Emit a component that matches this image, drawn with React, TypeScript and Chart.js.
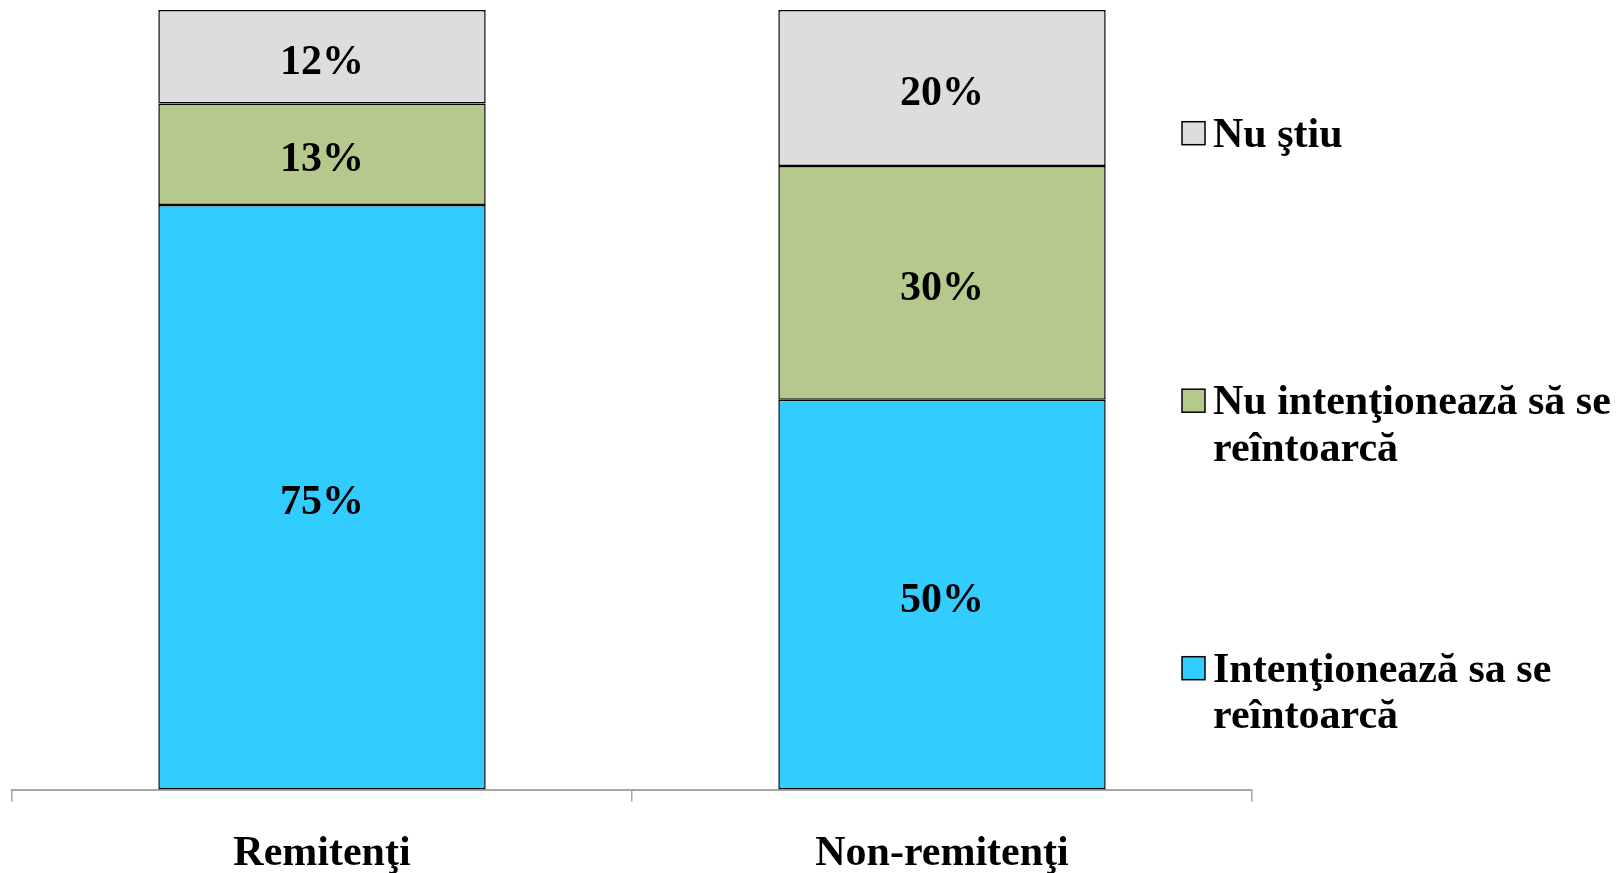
import React, { useEffect, useRef } from "react";
import { Chart, registerables } from "chart.js";

Chart.register(...registerables);

const categories = ["Remitenţi", "Non-remitenţi"];
const seriesLabels = [
  "Intenţionează sa se reîntoarcă",
  "Nu intenţionează să se reîntoarcă",
  "Nu ştiu",
];
const intends = [75, 50];
const notIntends = [13, 30];
const dontKnow = [12, 20];
const colors = ["#33CCFF", "#B5C98C", "#DCDDDF"];

const FONT_FAMILY = '"Liberation Serif", "Times New Roman", serif';

const dataLabelPlugin = {
  id: "dataLabels",
  afterDatasetsDraw(chart: any) {
    const ctx = chart.ctx;
    ctx.save();
    ctx.font = `bold 42px ${FONT_FAMILY}`;
    ctx.fillStyle = "#000";
    ctx.textAlign = "center";
    ctx.textBaseline = "middle";
    chart.data.datasets.forEach((ds: any, i: number) => {
      const meta = chart.getDatasetMeta(i);
      meta.data.forEach((el: any, j: number) => {
        const v = ds.data[j];
        const y = (el.y + el.base) / 2;
        ctx.fillText(v + "%", el.x, y + 6);
      });
    });
    ctx.restore();
  },
};

const legendPlugin = {
  id: "sideLegend",
  afterDraw(chart: any) {
    const ctx = chart.ctx;
    ctx.save();
    ctx.font = `bold 42px ${FONT_FAMILY}`;
    ctx.textAlign = "left";
    ctx.textBaseline = "alphabetic";
    const boxX = 1182;
    const textX = 1213;
    const maxW = 1622 - textX - 2;
    const firstBaseline = 146.7;
    const step = 267.5;
    const lineH = 46.5;
    const ds = chart.data.datasets;
    const order = [2, 1, 0];
    order.forEach((di: number, k: number) => {
      const base = firstBaseline + k * step;
      const words = String(ds[di].label).split(" ");
      const lines: string[] = [];
      let cur = "";
      words.forEach((w) => {
        const test = cur ? cur + " " + w : w;
        if (ctx.measureText(test).width > maxW && cur) {
          lines.push(cur);
          cur = w;
        } else cur = test;
      });
      if (cur) lines.push(cur);
      ctx.fillStyle = ds[di].backgroundColor;
      ctx.fillRect(boxX, base - 25, 23, 23);
      ctx.strokeStyle = "#000";
      ctx.lineWidth = 1.5;
      ctx.strokeRect(boxX, base - 25, 23, 23);
      ctx.fillStyle = "#000";
      lines.forEach((ln, li) => ctx.fillText(ln, textX, base + li * lineH));
    });
    ctx.restore();
  },
};

export default function App() {
  const ref = useRef<HTMLCanvasElement | null>(null);
  useEffect(() => {
    document.body.style.margin = "0";
    document.body.style.overflow = "hidden";
    const canvas = ref.current!;
    const chart = new Chart(canvas, {
      type: "bar",
      data: {
        labels: categories,
        datasets: [
          { label: seriesLabels[0], data: intends, backgroundColor: colors[0] },
          { label: seriesLabels[1], data: notIntends, backgroundColor: colors[1] },
          { label: seriesLabels[2], data: dontKnow, backgroundColor: colors[2] },
        ].map((d) => ({
          ...d,
          borderColor: "#000",
          borderWidth: 1.5,
          borderSkipped: false,
          categoryPercentage: 1,
          barPercentage: 0.528,
        })),
      },
      options: {
        responsive: false,
        animation: false,
        layout: { padding: { left: 12, right: 370, top: 10, bottom: 0 } },
        plugins: { legend: { display: false }, tooltip: { enabled: false } },
        scales: {
          x: {
            stacked: true,
            grid: {
              offset: true,
              drawOnChartArea: false,
              drawTicks: true,
              tickLength: 12,
              color: "#A6A6A6",
              lineWidth: 1.5,
            },
            border: { color: "#A6A6A6", width: 2 },
            ticks: {
              color: "#000",
              padding: 27,
              font: { family: FONT_FAMILY, size: 42, weight: "bold" },
            },
          },
          y: { stacked: true, display: false, min: 0, max: 100 },
        },
      },
      plugins: [dataLabelPlugin, legendPlugin],
    } as any);
    return () => chart.destroy();
  }, []);
  return (
    <div style={{ width: 1622, height: 906, background: "#fff" }}>
      <canvas ref={ref} width={1622} height={906} style={{ display: "block" }} />
    </div>
  );
}
